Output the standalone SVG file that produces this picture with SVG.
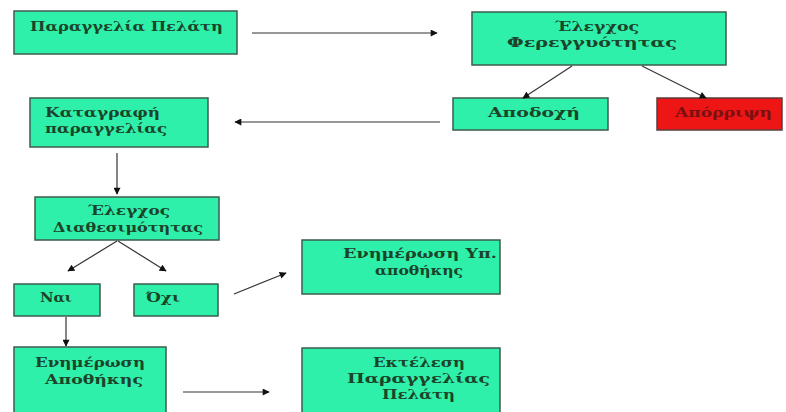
<svg xmlns="http://www.w3.org/2000/svg" width="786" height="412" viewBox="0 0 786 412">
<defs>
<marker id="ah" viewBox="0 0 10 10" refX="9" refY="5" markerWidth="8" markerHeight="7" markerUnits="userSpaceOnUse" orient="auto">
<path d="M0,0 L10,5 L0,10 z" fill="#111"/>
</marker>
<style>
.box{fill:#2ef0ab;stroke:#3d5c4c;stroke-width:1.5}
.red{fill:#ee1515;stroke:#5c3d3d;stroke-width:1.5}
.t{font-family:"DejaVu Serif","Liberation Serif",serif;font-weight:bold;font-size:13.5px;fill:#1c4428}
.tr{font-family:"DejaVu Serif","Liberation Serif",serif;font-weight:bold;font-size:13.5px;fill:#7a1010}
.c{stroke:#333;stroke-width:1.2;fill:none;marker-end:url(#ah)}
</style>
</defs>
<rect width="786" height="412" fill="#fff"/>
<g id="n_order">
<rect class="box" x="14" y="11" width="223" height="43"/>
<text class="t" x="30" y="31" textLength="193" lengthAdjust="spacingAndGlyphs">Παραγγελία Πελάτη</text>
</g>
<g id="n_credit">
<rect class="box" x="472" y="12" width="254" height="53"/>
<text class="t" x="555" y="31" textLength="84" lengthAdjust="spacingAndGlyphs">Έλεγχος</text>
<text class="t" x="507" y="47" textLength="170" lengthAdjust="spacingAndGlyphs">Φερεγγυότητας</text>
</g>
<g id="n_accept">
<rect class="box" x="453" y="98" width="155" height="32"/>
<text class="t" x="488" y="117" textLength="92" lengthAdjust="spacingAndGlyphs">Αποδοχή</text>
</g>
<g id="n_reject">
<rect class="red" x="657" y="98" width="125" height="32"/>
<text class="tr" x="675" y="117" textLength="97" lengthAdjust="spacingAndGlyphs">Απόρριψη</text>
</g>
<g id="n_record">
<rect class="box" x="30" y="98" width="178" height="49"/>
<text class="t" x="45" y="117" textLength="115" lengthAdjust="spacingAndGlyphs">Καταγραφή</text>
<text class="t" x="45" y="133" textLength="122" lengthAdjust="spacingAndGlyphs">παραγγελίας</text>
</g>
<g id="n_avail">
<rect class="box" x="35" y="197" width="184" height="43"/>
<text class="t" x="88" y="215" textLength="82" lengthAdjust="spacingAndGlyphs">Έλεγχος</text>
<text class="t" x="53" y="232" textLength="150" lengthAdjust="spacingAndGlyphs">Διαθεσιμότητας</text>
</g>
<g id="n_yes">
<rect class="box" x="14" y="284" width="86" height="32"/>
<text class="t" x="40" y="302" textLength="32" lengthAdjust="spacingAndGlyphs">Ναι</text>
</g>
<g id="n_no">
<rect class="box" x="134" y="284" width="84" height="32"/>
<text class="t" x="146" y="302" textLength="34" lengthAdjust="spacingAndGlyphs">Όχι</text>
</g>
<g id="n_subwh">
<rect class="box" x="302" y="240" width="198" height="54"/>
<text class="t" x="343" y="258" textLength="154" lengthAdjust="spacingAndGlyphs">Ενημέρωση Υπ.</text>
<text class="t" x="375" y="275" textLength="88" lengthAdjust="spacingAndGlyphs">αποθήκης</text>
</g>
<g id="n_wh">
<rect class="box" x="14" y="347" width="152" height="70"/>
<text class="t" x="35" y="367" textLength="110" lengthAdjust="spacingAndGlyphs">Ενημέρωση</text>
<text class="t" x="45" y="384" textLength="98" lengthAdjust="spacingAndGlyphs">Αποθήκης</text>
</g>
<g id="n_exec">
<rect class="box" x="302" y="348" width="198" height="70"/>
<text class="t" x="373" y="367" textLength="92" lengthAdjust="spacingAndGlyphs">Εκτέλεση</text>
<text class="t" x="347" y="383" textLength="143" lengthAdjust="spacingAndGlyphs">Παραγγελίας</text>
<text class="t" x="382" y="399" textLength="73" lengthAdjust="spacingAndGlyphs">Πελάτη</text>
</g>
<g id="connectors">
<line class="c" x1="252" y1="33" x2="437" y2="33"/>
<line class="c" x1="572" y1="66" x2="523" y2="98"/>
<line class="c" x1="642" y1="66" x2="706" y2="98"/>
<line class="c" x1="440" y1="122" x2="235" y2="122"/>
<line class="c" x1="117" y1="153" x2="117" y2="194"/>
<line class="c" x1="117" y1="241" x2="68" y2="271"/>
<line class="c" x1="118" y1="241" x2="166" y2="271"/>
<line class="c" x1="234" y1="294" x2="286" y2="273"/>
<line class="c" x1="66" y1="317" x2="66" y2="346"/>
<line class="c" x1="183" y1="392" x2="269" y2="392"/>
</g>
</svg>
